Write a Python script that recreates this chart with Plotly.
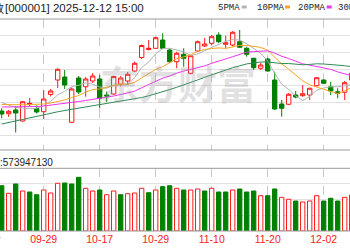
import plotly.graph_objects as go

# ---------------- data ----------------
dates = ["09-19", "09-22", "09-23", "09-24", "09-25", "09-26", "09-29", "09-30", "10-09", "10-10",
         "10-13", "10-14", "10-15", "10-16", "10-17", "10-20", "10-21", "10-22", "10-23", "10-24",
         "10-27", "10-28", "10-29", "10-30", "10-31", "11-03", "11-04", "11-05", "11-06", "11-07",
         "11-10", "11-11", "11-12", "11-13", "11-14", "11-17", "11-18", "11-19", "11-20", "11-21",
         "11-24", "11-25", "11-26", "11-27", "11-28", "12-01", "12-02", "12-03", "12-04", "12-05",
         "12-08"]

opens = [3839.2, 3832.7, 3841.6, 3815.2, 3854.8, 3845.2, 3837.5, 3878.8, 3913.6, 3920.8,
         3812.1, 3918.4, 3897.5, 3911.2, 3916.0, 3877.6, 3880.0, 3903.3, 3911.2, 3935.2,
         3967.6, 3986.8, 3989.7, 4009.6, 3985.6, 3957.5, 3975.3, 3929.7, 3983.2, 3995.2,
         4001.7, 4021.6, 3999.3, 3997.6, 4005.5, 3989.7, 3965.7, 3941.7, 3964.0, 3913.6,
         3856.0, 3855.3, 3877.6, 3875.9, 3877.6, 3899.9, 3913.6, 3897.5, 3885.5, 3884.1,
         3913.6]
highs = [3845.7, 3841.6, 3851.2, 3863.2, 3870.4, 3852.4, 3889.6, 3892.0, 3941.7, 3937.6,
         3895.6, 3923.2, 3920.8, 3930.4, 3925.6, 3886.0, 3923.2, 3923.2, 3932.8, 3958.0,
         3998.8, 4009.6, 4018.0, 4025.7, 3989.2, 3981.5, 3989.7, 3973.6, 4008.4, 4014.4,
         4021.6, 4028.1, 4019.9, 4031.2, 4033.6, 3993.5, 3967.1, 3955.1, 3967.1, 3933.5,
         3865.6, 3882.4, 3887.2, 3901.6, 3895.1, 3920.8, 3914.8, 3909.5, 3893.7, 3911.2,
         3932.8]
lows = [3821.7, 3824.8, 3787.6, 3813.5, 3850.0, 3833.2, 3820.0, 3874.0, 3894.4, 3892.0,
        3810.4, 3880.0, 3873.5, 3906.4, 3845.7, 3860.8, 3877.6, 3898.0, 3901.6, 3932.8,
        3964.0, 3984.4, 3988.0, 3988.0, 3954.4, 3941.7, 3945.5, 3927.3, 3980.8, 3992.8,
        3997.6, 4001.7, 3989.7, 3994.0, 3990.9, 3969.5, 3937.6, 3937.6, 3933.5, 3841.6,
        3825.5, 3853.6, 3869.7, 3873.5, 3865.6, 3898.0, 3904.0, 3877.6, 3869.7, 3865.6,
        3911.2]
closes = [3832.0, 3838.5, 3834.4, 3861.5, 3857.7, 3836.8, 3868.0, 3887.2, 3939.3, 3901.6,
          3892.0, 3884.8, 3916.0, 3923.2, 3869.7, 3875.2, 3922.0, 3918.4, 3927.3, 3953.7,
          3996.4, 3989.7, 4015.1, 3989.7, 3957.5, 3977.7, 3965.7, 3971.9, 4005.5, 4000.0,
          4017.5, 4005.5, 4003.1, 4028.1, 3992.1, 3975.3, 3943.1, 3949.6, 3935.2, 3844.0,
          3845.7, 3879.3, 3872.8, 3880.7, 3893.7, 3919.1, 3905.7, 3887.2, 3881.7, 3907.1,
          3929.7]
prev_close = 3866.0

volumes = [722e6, 601e6, 750e6, 638e6, 622e6, 579e6, 654e6, 606e6, 761e6, 766e6,
           750e6, 856e6, 681e6, 638e6, 654e6, 579e6, 638e6, 579e6, 595e6, 606e6,
           681e6, 611e6, 654e6, 707e6, 722e6, 681e6, 654e6, 654e6, 670e6, 638e6,
           681e6, 622e6, 622e6, 654e6, 670e6, 622e6, 638e6, 563e6, 563e6, 670e6,
           537e6, 506e6, 478e6, 463e6, 478e6, 563e6, 478e6, 522e6, 478e6, 537e6,
           574e6]

ma5 = [3859.6, 3853.6, 3847.6, 3846.2, 3844.7, 3845.7, 3851.7, 3862.2, 3877.8, 3886.5,
       3897.5, 3900.9, 3906.6, 3903.5, 3897.0, 3893.7, 3901.1, 3901.6, 3902.6, 3919.4,
       3943.6, 3957.0, 3976.5, 3989.0, 3989.7, 3985.8, 3981.0, 3972.4, 3975.8, 3984.2,
       3992.1, 4000.0, 4006.2, 4010.8, 4009.4, 4000.7, 3988.2, 3977.7, 3959.0, 3929.4,
       3903.5, 3890.8, 3875.4, 3864.4, 3874.5, 3889.1, 3894.4, 3897.3, 3897.5, 3900.2,
       3902.3]
ma10 = [3854.8, 3854.3, 3853.6, 3854.1, 3854.8, 3854.6, 3856.0, 3858.4, 3862.0, 3865.7,
        3871.7, 3876.3, 3884.5, 3890.7, 3891.9, 3895.7, 3901.1, 3904.2, 3903.0, 3908.2,
        3918.7, 3929.2, 3939.1, 3945.7, 3954.5, 3964.7, 3969.1, 3974.5, 3982.3, 3986.9,
        3989.0, 3990.6, 3989.4, 3993.3, 3996.7, 3996.5, 3994.2, 3992.0, 3985.0, 3969.4,
        3952.2, 3939.5, 3926.5, 3911.8, 3901.9, 3896.3, 3892.6, 3886.3, 3881.0, 3887.3,
        3895.7]
ma20 = [3848.8, 3848.8, 3848.3, 3848.8, 3849.3, 3850.0, 3851.2, 3853.1, 3856.0, 3857.7,
        3859.6, 3862.0, 3864.4, 3866.8, 3869.2, 3871.6, 3875.2, 3878.8, 3882.4, 3886.8,
        3895.0, 3902.6, 3911.7, 3918.1, 3923.1, 3930.1, 3935.0, 3939.2, 3942.5, 3947.4,
        3953.7, 3959.9, 3964.2, 3969.5, 3975.6, 3980.6, 3981.7, 3983.2, 3983.6, 3978.1,
        3970.6, 3965.1, 3958.0, 3952.5, 3949.3, 3946.4, 3943.4, 3939.2, 3933.0, 3928.3,
        3923.9]
ma30 = [3808.0, 3811.8, 3815.7, 3819.5, 3823.4, 3827.0, 3830.6, 3833.9, 3837.3, 3840.4,
        3843.3, 3846.2, 3848.8, 3851.4, 3854.1, 3856.7, 3859.4, 3862.0, 3864.9, 3868.0,
        3871.6, 3875.7, 3880.2, 3885.3, 3890.6, 3896.1, 3901.6, 3907.6, 3913.8, 3920.2,
        3926.4, 3932.0, 3937.6, 3943.1, 3947.6, 3952.2, 3954.7, 3956.8, 3956.7, 3954.8,
        3953.2, 3953.1, 3951.7, 3950.2, 3951.0, 3952.5, 3952.0, 3950.9, 3949.4, 3947.9,
        3945.6]

label_dates = ["09-29", "10-17", "10-29", "11-10", "11-20", "12-02"]
price_grid = [3780, 3820, 3860, 3900, 3940, 3980, 4020]
volume_grid = [2.5e8, 5.0e8, 7.5e8]
ma_names = ["5PMA", "10PMA", "20PMA", "30PMA"]
title_name = "上证指数"
title_rest = "[000001] 2025-12-12 15:00"
vol_name = "成交量"
vol_value = ":573947130"
watermark = "东方财富"

# ---------------- styles ----------------
RED = "#ff1a1a"
GREEN = "#008000"
MA_COLORS = ["#b4b4b4", "#f5a623", "#ee33ee", "#2e8b57"]
FONT = "Liberation Sans, Noto Sans CJK SC"
MONO = "Liberation Mono, DejaVu Sans Mono, Noto Sans CJK SC"
W, H = 350, 250

def px(v, total):
    return v / total

x = list(range(len(dates)))
tick_idx = [dates.index(d) for d in label_dates]

vol_up = []
for i, c in enumerate(closes):
    ref = closes[i - 1] if i > 0 else prev_close
    vol_up.append(c >= ref)

fig = go.Figure()

fig.add_trace(go.Candlestick(
    x=x, open=opens, high=highs, low=lows, close=closes,
    xaxis="x2", yaxis="y2",
    increasing=dict(line=dict(color=RED, width=1), fillcolor="white"),
    decreasing=dict(line=dict(color=GREEN, width=1), fillcolor=GREEN),
    whiskerwidth=0, hoverinfo="skip",
))

for name, vals, col in zip(ma_names, [ma5, ma10, ma20, ma30], MA_COLORS):
    fig.add_trace(go.Scatter(x=x, y=vals, mode="lines", name=name,
                             line=dict(color=col, width=1), xaxis="x2", yaxis="y2",
                             hoverinfo="skip"))

fig.add_trace(go.Bar(
    x=x, y=volumes, width=0.62,
    marker=dict(color=["white" if u else GREEN for u in vol_up],
                line=dict(color=[RED if u else GREEN for u in vol_up], width=1)),
    xaxis="x", yaxis="y", hoverinfo="skip",
))

x_range = [-0.243, 49.757]
common_x = dict(range=x_range, showgrid=True, gridcolor="#c8c8c8", griddash="dash",
                gridwidth=1, zeroline=False, showline=False, ticks="",
                tickvals=tick_idx, ticktext=label_dates, fixedrange=True)

fig.update_layout(
    width=W, height=H, margin=dict(l=0, r=0, t=0, b=0),
    paper_bgcolor="white", plot_bgcolor="white", showlegend=False,
    boxgap=0.38, boxgroupgap=0,
    xaxis=dict(**common_x, anchor="y", domain=[0, 1], showticklabels=True,
               tickfont=dict(family=FONT, size=10.5, color=RED)),
    xaxis2=dict(**common_x, anchor="y2", domain=[0, 1], matches="x",
                showticklabels=False, rangeslider=dict(visible=False)),
    yaxis=dict(domain=[1 - 231 / H, 1 - 168.3 / H], range=[0, 1e9],
               tickvals=volume_grid, showticklabels=False, gridcolor="#e2e2e2",
               zeroline=False, showline=False, ticks=""),
    yaxis2=dict(domain=[1 - 150 / H, 1 - 19 / H], range=[3745.6, 4060],
                tickvals=price_grid, showticklabels=False, gridcolor="#e2e2e2",
                zeroline=False, showline=False, ticks=""),
)

# panel borders
shapes = []
for yref in ["y2 domain", "y domain"]:
    for yy in [0, 1]:
        shapes.append(dict(type="line", xref="paper", yref=yref, x0=0, x1=1, y0=yy, y1=yy,
                           line=dict(color="#9a9a9a", width=1), layer="above"))

annotations = []
tfont = dict(family=FONT, size=11.5, color="#222222")
lfont = dict(family=MONO, size=9, color="#222222")
vfont = dict(family=FONT, size=10, color="#222222")
# title
annotations.append(dict(text=title_name, xref="paper", yref="paper", x=px(5, W), y=1 - px(8, H),
                        xanchor="right", yanchor="middle", showarrow=False, font=tfont,
                        borderpad=0, borderwidth=0))
annotations.append(dict(text=title_rest, xref="paper", yref="paper", x=px(5, W), y=1 - px(8, H),
                        xanchor="left", yanchor="middle", showarrow=False, font=tfont,
                        borderpad=0, borderwidth=0))
# MA legend
leg_x = [218.3, 256.7, 298.3, 338.3]
mark_x = [241.7, 285.0, 326.7, 372.0]
for name, col, lx, mx in zip(ma_names, MA_COLORS, leg_x, mark_x):
    annotations.append(dict(text=name, xref="paper", yref="paper", x=px(lx, W), y=1 - px(8, H),
                            xanchor="left", yanchor="middle", showarrow=False, font=lfont,
                            borderpad=0, borderwidth=0))
    shapes.append(dict(type="rect", xref="paper", yref="paper",
                       x0=px(mx, W), x1=px(mx + 5, W), y0=1 - px(8.5, H), y1=1 - px(5.5, H),
                       fillcolor=col, line=dict(width=0), layer="above"))
# volume label
annotations.append(dict(text=vol_name, xref="paper", yref="paper", x=px(0, W), y=1 - px(162, H),
                        xanchor="right", yanchor="middle", showarrow=False, font=vfont,
                        borderpad=0, borderwidth=0))
annotations.append(dict(text=vol_value, xref="paper", yref="paper", x=px(0, W), y=1 - px(162, H),
                        xanchor="left", yanchor="middle", showarrow=False, font=vfont,
                        borderpad=0, borderwidth=0))
# partially visible date label on the left edge
annotations.append(dict(text="09-17", xref="paper", yref="paper", x=px(1.7 - 14, W), y=1 - px(241, H),
                        xanchor="center", yanchor="middle", showarrow=False,
                        font=dict(family=FONT, size=10.5, color=RED), borderpad=0, borderwidth=0))
# watermark
annotations.append(dict(text="<b>" + watermark + "</b>", xref="paper", yref="paper",
                        x=px(178, W), y=1 - px(82, H), xanchor="center", yanchor="middle",
                        showarrow=False, font=dict(family="Noto Sans CJK SC", size=39,
                                                    color="rgba(150,150,150,0.28)")))

fig.update_layout(shapes=shapes, annotations=annotations)
fig.write_html("out.html")
